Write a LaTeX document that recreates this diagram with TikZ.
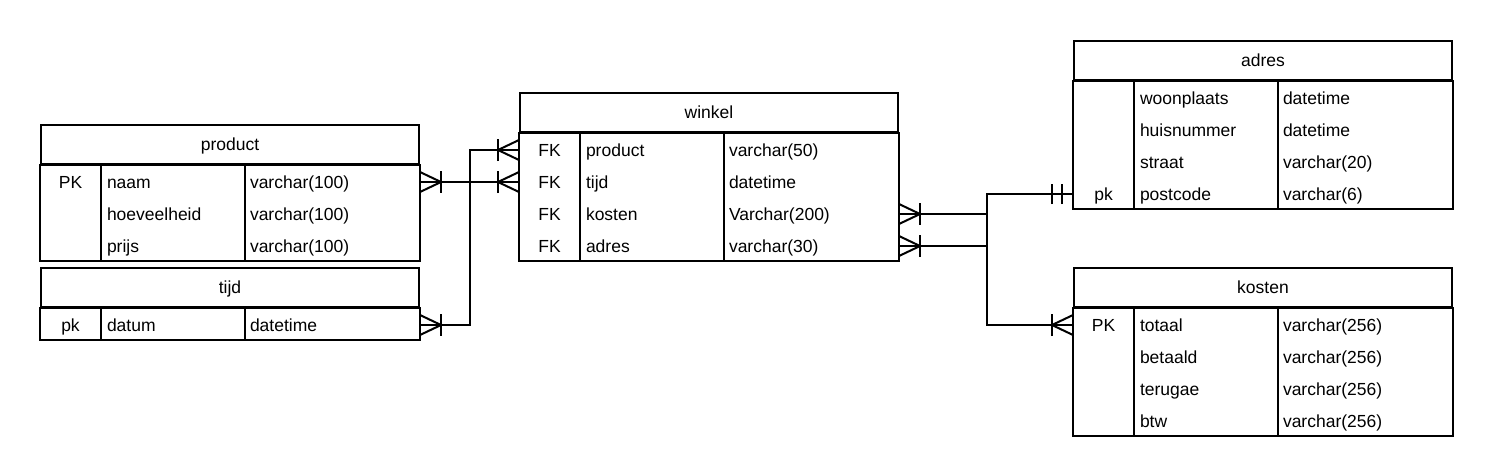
\documentclass[tikz,border=0pt]{standalone}
\usepackage{fontspec}
\setmainfont{Liberation Sans}
\usetikzlibrary{calc}
% een tabel: naam, x, y, titel, aantal rijen, rijen (sleutel/veld/type)
\newcommand\tabel[6]{%
  \node[kop] (#1) at (#2,#3) {#4};
  \foreach \s/\v/\t [count=\i] in {#6}{
    \node[rij] (#1-r\i) at ($(#1.south west)+(0,{(\i-1)*32})$) {};
    \node[sleutel] at ($(#1-r\i.west)+(30.5,6)$) {\s};
    \node[tekst] at ($(#1-r\i.west)+(66,6)$) {\v};
    \node[tekst] at ($(#1-r\i.west)+(209,6)$) {\t};
  }
  \draw (#1.south west) rectangle ($(#1.south east)+(0,{#5*32})$);
  \draw ($(#1.south west)+(61,0)$) -- ++(0,{#5*32});
  \draw ($(#1.south west)+(205,0)$) -- ++(0,{#5*32});
}
\begin{document}
\begin{tikzpicture}[x=1pt, y=-1pt, line width=2pt, font=\fontsize{17.5}{21}\selectfont]
  \tikzset{
    kop/.style={draw, anchor=north west, minimum width=378pt, minimum height=39pt, inner sep=0pt, text height=12pt, text depth=0pt},
    rij/.style={anchor=north west, minimum width=378pt, minimum height=32pt, inner sep=0pt},
    sleutel/.style={anchor=base, inner sep=0pt},
    tekst/.style={anchor=base west, inner sep=0pt},
    veel/.pic={\draw (0,-10) -- (21,0) -- (0,10); \draw (21,-11) -- (21,11);},
    een/.pic={\draw (11,-10) -- (11,10); \draw (21,-10) -- (21,10);}
  }
  \useasboundingbox (0,0) rectangle (1491,475);

  \tabel{product}{40}{124}{product}{3}{PK/naam/varchar(100), {}/hoeveelheid/varchar(100), {}/prijs/varchar(100)}
  \tabel{tijd}{40}{267}{tijd}{1}{pk/datum/datetime}
  \tabel{winkel}{519}{92}{winkel}{4}{FK/product/varchar(50), FK/tijd/datetime, FK/kosten/Varchar(200), FK/adres/varchar(30)}
  \tabel{adres}{1073}{40}{adres}{4}{{}/woonplaats/datetime, {}/huisnummer/datetime, {}/straat/varchar(20), pk/postcode/varchar(6)}
  \tabel{kosten}{1073}{267}{kosten}{4}{PK/totaal/varchar(256), {}/betaald/varchar(256), {}/terugae/varchar(256), {}/btw/varchar(256)}

  % relaties
  \draw (product-r1.east) -- (winkel-r2.west);
  \draw (tijd-r1.east) -- ++(50,0) |- (winkel-r1.west);
  \draw (winkel-r3.east) -- ++(88,0) |- (kosten-r1.west);
  \draw (winkel-r4.east) -- ++(88,0) |- (adres-r4.west);

  \path (product-r1.east) pic{veel};
  \path (tijd-r1.east) pic{veel};
  \path (winkel-r1.west) pic[rotate=180]{veel};
  \path (winkel-r2.west) pic[rotate=180]{veel};
  \path (winkel-r3.east) pic{veel};
  \path (winkel-r4.east) pic{veel};
  \path (kosten-r1.west) pic[rotate=180]{veel};
  \path (adres-r4.west) pic[rotate=180]{een};
\end{tikzpicture}
\end{document}
